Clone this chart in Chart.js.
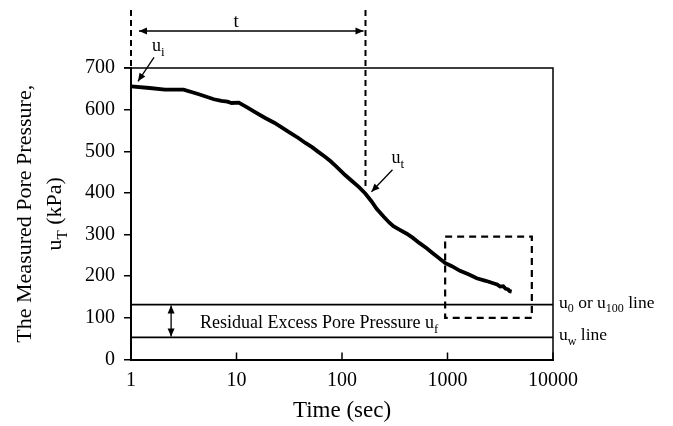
<html>
<head>
  <title>Pore Pressure</title>
  <script src="https://cdn.jsdelivr.net/npm/chart.js"></script>
  <style>
    html, body { margin: 0; padding: 0; background: #fff; overflow: hidden; }
    canvas { display: block; }
  </style>
</head>
<body>
  <canvas id="poreChart" width="673" height="426"></canvas>

  <script>
    // measured pore pressure vs time
    const timeSec = [1, 1.5, 2.1, 3.15, 4.4, 6.1, 7.2, 8.2, 9.0, 10.5, 12.5, 15, 18.7, 23, 27, 32, 38.6, 45, 52, 60, 69, 78, 88, 107, 125, 145, 167, 190, 213, 250, 280, 307, 350, 411, 470, 540, 635, 720, 800, 947, 1100, 1313, 1600, 1892, 2300, 2716, 2950, 3150, 3377, 3550, 3750, 3900, 4056];
    const poreKPa = [656, 652, 648, 648, 637, 625, 621, 619, 616, 617, 606, 594, 580, 568, 557, 545, 532, 520, 510, 498, 487, 476, 464, 443, 428, 414, 398, 380, 362, 342, 329, 320, 312, 302, 292, 280, 267, 256, 247, 232, 224, 213, 204, 195, 189, 183, 180, 175, 176, 170, 168, 164, 163];

    const xTickVals = [1, 10, 100, 1000, 10000];
    const yTickStep = 100;

    // reference lines: u0 (u100) line and uw line
    const baseLineVals = [132, 53];
    // marked times: start (ui) and t (ut)
    const markTimes = [1, 167];
    const markPressures = [656, 398];
    // dashed box around the tail of the curve
    const boxTimes = [950, 6300];
    const boxPressures = [100, 295];
    const residualArrowTime = 2.4;

    const serif = "'Liberation Serif', 'Times New Roman', serif";

    // draws a run of text pieces, some of them as subscripts
    function drawRich(ctx, parts, x, y, size, align) {
      const subSize = Math.round(size * 0.7);
      let total = 0;
      parts.forEach(p => {
        ctx.font = (p.sub ? subSize : size) + 'px ' + serif;
        p.w = ctx.measureText(p.t).width;
        total += p.w;
      });
      let cx = x;
      if (align === 'center') cx = x - total / 2;
      if (align === 'right') cx = x - total;
      ctx.textAlign = 'left';
      ctx.textBaseline = 'alphabetic';
      parts.forEach(p => {
        ctx.font = (p.sub ? subSize : size) + 'px ' + serif;
        ctx.fillText(p.t, cx, p.sub ? y + size * 0.28 : y);
        cx += p.w;
      });
    }

    function arrowHead(ctx, x1, y1, x2, y2, len, wid) {
      const a = Math.atan2(y2 - y1, x2 - x1);
      ctx.beginPath();
      ctx.moveTo(x2, y2);
      ctx.lineTo(x2 - len * Math.cos(a) + wid * Math.sin(a), y2 - len * Math.sin(a) - wid * Math.cos(a));
      ctx.lineTo(x2 - len * Math.cos(a) - wid * Math.sin(a), y2 - len * Math.sin(a) + wid * Math.cos(a));
      ctx.closePath();
      ctx.fill();
    }

    function arrow(ctx, x1, y1, x2, y2, both) {
      ctx.beginPath();
      ctx.moveTo(x1, y1);
      ctx.lineTo(x2, y2);
      ctx.stroke();
      arrowHead(ctx, x1, y1, x2, y2, 8, 3.5);
      if (both) arrowHead(ctx, x2, y2, x1, y1, 8, 3.5);
    }

    const annotations = {
      id: 'annotations',
      afterDatasetsDraw(chart) {
        const ctx = chart.ctx;
        const area = chart.chartArea;
        const xs = chart.scales.x;
        const ys = chart.scales.y;
        const X = v => xs.getPixelForValue(v);
        const Y = v => ys.getPixelForValue(v);

        ctx.save();
        ctx.strokeStyle = '#000';
        ctx.fillStyle = '#000';

        // top and right frame
        ctx.lineWidth = 1.5;
        ctx.beginPath();
        ctx.moveTo(area.left - 7, area.top);
        ctx.lineTo(area.right, area.top);
        ctx.lineTo(area.right, area.bottom);
        ctx.stroke();

        // x ticks point inward
        xs.ticks.forEach(t => {
          const px = X(t.value);
          ctx.beginPath();
          ctx.moveTo(px, area.bottom);
          ctx.lineTo(px, area.bottom - 7);
          ctx.stroke();
        });

        // u0 and uw lines
        ctx.lineWidth = 1.8;
        baseLineVals.forEach(v => {
          ctx.beginPath();
          ctx.moveTo(area.left, Y(v));
          ctx.lineTo(area.right, Y(v));
          ctx.stroke();
        });
        drawRich(ctx, [{ t: 'u' }, { t: '0', sub: true }, { t: ' or u' }, { t: '100', sub: true }, { t: ' line' }],
          area.right + 6, Y(baseLineVals[0]) + 3, 17.5, 'left');
        drawRich(ctx, [{ t: 'u' }, { t: 'w', sub: true }, { t: ' line' }],
          area.right + 6, Y(baseLineVals[1]) + 3, 17.5, 'left');

        // residual excess pore pressure
        ctx.lineWidth = 1.3;
        arrow(ctx, X(residualArrowTime), Y(baseLineVals[0]) + 1, X(residualArrowTime), Y(baseLineVals[1]) - 1, true);
        drawRich(ctx, [{ t: 'Residual Excess Pore Pressure u' }, { t: 'f', sub: true }],
          X(residualArrowTime) + 29, Y(baseLineVals[1]) - 9, 18, 'left');

        // dashed box
        ctx.lineWidth = 2.2;
        ctx.setLineDash([7, 5]);
        ctx.strokeRect(X(boxTimes[0]), Y(boxPressures[1]), X(boxTimes[1]) - X(boxTimes[0]), Y(boxPressures[0]) - Y(boxPressures[1]));

        // dashed verticals at start and at t
        ctx.lineWidth = 2;
        ctx.setLineDash([6, 4]);
        const topY = 10;
        ctx.beginPath();
        ctx.moveTo(X(markTimes[0]), topY);
        ctx.lineTo(X(markTimes[0]), area.top);
        ctx.moveTo(X(markTimes[1]), topY);
        ctx.lineTo(X(markTimes[1]), Y(markPressures[1]) - 4);
        ctx.stroke();
        ctx.setLineDash([]);

        // t span arrow
        ctx.lineWidth = 1.3;
        const spanY = 31;
        arrow(ctx, X(markTimes[0]) + 8, spanY, X(markTimes[1]) - 2, spanY, true);
        ctx.font = '19px ' + serif;
        ctx.textAlign = 'center';
        ctx.textBaseline = 'alphabetic';
        ctx.fillText('t', (X(markTimes[0]) + X(markTimes[1])) / 2 - 12, spanY - 4);

        // ui label
        const ix = X(markTimes[0]), iy = Y(markPressures[0]);
        arrow(ctx, ix + 23, iy - 29, ix + 7, iy - 5, false);
        drawRich(ctx, [{ t: 'u' }, { t: 'i', sub: true }], ix + 21, iy - 35, 18, 'left');

        // ut label
        const tx = X(markTimes[1]), ty = Y(markPressures[1]);
        arrow(ctx, tx + 27, ty - 24, tx + 6, ty - 2, false);
        drawRich(ctx, [{ t: 'u' }, { t: 't', sub: true }], tx + 26, ty - 31, 18, 'left');

        // y axis title (two lines, with subscript)
        const cy = (area.top + area.bottom) / 2;
        ctx.translate(0, cy);
        ctx.rotate(-Math.PI / 2);
        drawRich(ctx, [{ t: 'The Measured Pore Pressure,' }], 0, 31, 22, 'center');
        drawRich(ctx, [{ t: 'u' }, { t: 'T', sub: true }, { t: ' (kPa)' }], 0, 61, 22, 'center');

        ctx.restore();
      }
    };

    new Chart(document.getElementById('poreChart'), {
      type: 'line',
      data: {
        labels: timeSec,
        datasets: [{
          label: 'Measured pore pressure',
          data: timeSec.map((t, i) => ({ x: t, y: poreKPa[i] })),
          borderColor: '#000',
          borderWidth: 3.8,
          pointRadius: 0,
          tension: 0,
          fill: false
        }]
      },
      options: {
        responsive: false,
        animation: false,
        events: [],
        layout: { padding: { left: 0, right: 120, top: 68, bottom: 0 } },
        plugins: {
          legend: { display: false },
          tooltip: { enabled: false }
        },
        scales: {
          x: {
            type: 'logarithmic',
            min: 1,
            max: 10000,
            afterBuildTicks: scale => { scale.ticks = xTickVals.map(v => ({ value: v })); },
            afterFit: scale => { scale.height = 66.5; },
            ticks: {
              color: '#000',
              padding: 9,
              maxRotation: 0,
              autoSkip: false,
              font: { family: serif, size: 20 },
              callback: v => String(v)
            },
            grid: { display: false, drawTicks: false },
            border: { color: '#000', width: 2 },
            title: {
              display: true,
              text: 'Time (sec)',
              color: '#000',
              font: { family: serif, size: 23 },
              padding: { top: 0, bottom: 1 }
            }
          },
          y: {
            min: 0,
            max: 700,
            afterFit: scale => { scale.width = 131; },
            ticks: {
              stepSize: yTickStep,
              color: '#000',
              padding: 9,
              font: { family: serif, size: 20 }
            },
            grid: {
              display: true,
              drawOnChartArea: false,
              drawTicks: true,
              tickLength: 7,
              color: '#000',
              lineWidth: 1.5
            },
            border: { color: '#000', width: 2 }
          }
        }
      },
      plugins: [annotations]
    });
  </script>
</body>
</html>
